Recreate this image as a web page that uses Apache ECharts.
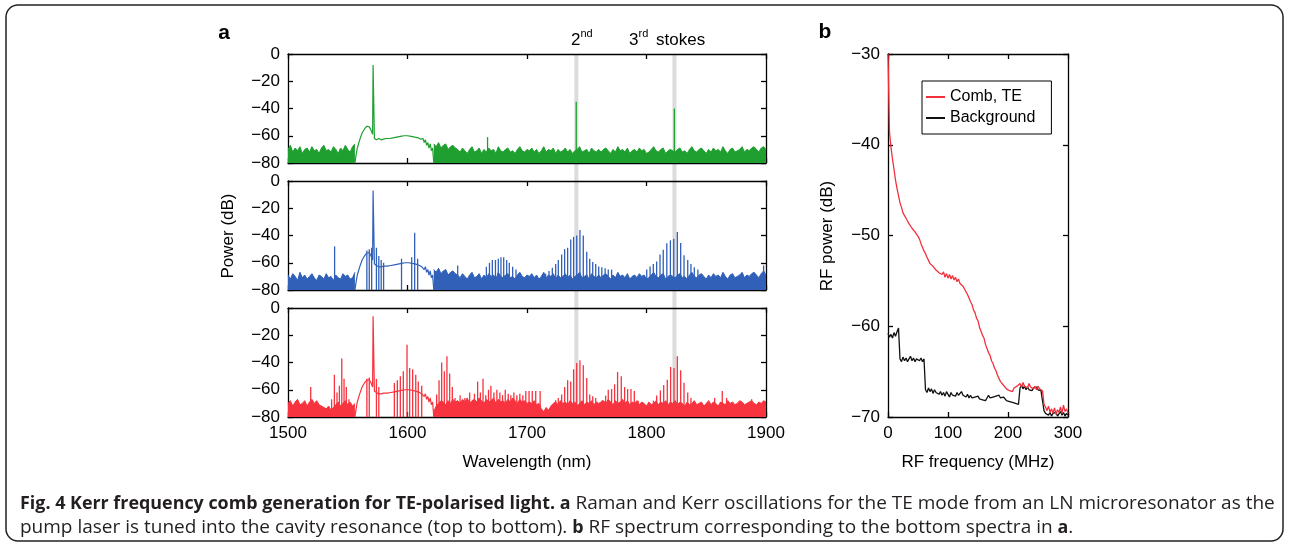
<!DOCTYPE html>
<html><head><meta charset="utf-8">
<script src="https://cdn.jsdelivr.net/npm/echarts@6/dist/echarts.min.js"></script>
<style>html,body{margin:0;padding:0;background:#fff}#c{width:1289px;height:548px}</style>
</head><body><div id="c"></div>
<script>
// ================= DATA =================
// Panel a: wavelength axis (nm) and power ticks (dB)
const wlMin = 1500, wlMax = 1900, wlInterval = 100;
const pMin = -80, pMax = 0, pInterval = 20;
// grey bands marking 2nd and 3rd Stokes lines [start nm, end nm]
const stokesBands = [[1739.6, 1743.0], [1821.7, 1825.1]];

// noise floor (top of noise band, dB) sampled every 2 nm
const noiseStep = 2;
const noiseLeftStart = 1500;   // 1500..1556
const noiseRightStart = 1622;  // 1622..1900

// --- top spectrum (green) ---
const greenNoiseLeft = [
 -70,-67,-72,-69,-71,-68,-73,-70,-69,-72,
 -68,-71,-70,-73,-69,-67,-71,-70,-72,-68,
 -70,-73,-69,-71,-67,-70,-72,-68,-66];
const greenNoiseRight = [
 -66,-68,-65,-69,-67,-66,-70,-68,-67,-69,
 -70,-72,-69,-71,-73,-70,-68,-72,-71,-69,
 -73,-70,-72,-69,-71,-70,-73,-68,-71,-72,
 -70,-69,-72,-71,-73,-70,-68,-71,-72,-70,
 -71,-69,-72,-70,-73,-71,-68,-72,-70,-71,
 -69,-73,-70,-72,-71,-69,-72,-70,-73,-71,
 -70,-68,-72,-71,-70,-73,-69,-71,-72,-70,
 -72,-70,-69,-71,-73,-70,-72,-68,-71,-70,
 -72,-69,-73,-71,-70,-72,-69,-71,-70,-73,
 -72,-70,-68,-71,-72,-70,-69,-73,-71,-70,
 -71,-72,-70,-69,-72,-71,-73,-70,-68,-71,
 -72,-70,-69,-71,-73,-70,-72,-69,-71,-70,
 -72,-68,-71,-73,-70,-69,-72,-71,-70,-68,
 -72,-70,-71,-69,-68,-70,-72,-69,-68,-70];
const greenHump = [[1556,-80],[1557,-74],[1558,-69],[1560,-63],[1562,-58],[1564,-55],[1566,-53],[1568,-53.5],
 [1569.5,-56],[1570.8,-59],[1571.2,-8],[1571.8,-8],[1572.3,-62],[1574,-63],[1576,-62],[1578,-63],[1580,-62.5],
 [1582,-62],[1585,-62],[1588,-61.5],[1591,-61],[1594,-60.5],[1597,-60],[1600,-60],[1603,-60.5],[1606,-61],
 [1609,-61.5],[1611,-62.5],[1613,-62],[1614,-65],[1615,-63],[1616,-67],[1617,-65],[1618,-69],[1619,-66],
 [1620,-71],[1621,-69],[1622,-80]];
const greenSpikes = [[1667,-61],[1741.2,-35],[1823.3,-40]];

// --- middle spectrum (blue) ---
const blueNoiseLeft = [
 -69,-72,-68,-70,-73,-67,-71,-69,-72,-70,
 -68,-71,-73,-69,-70,-72,-68,-71,-70,-73,
 -69,-71,-72,-68,-70,-69,-72,-71,-67];
const blueNoiseRight = [
 -65,-67,-64,-68,-66,-65,-69,-67,-66,-68,
 -69,-71,-68,-70,-72,-69,-67,-71,-70,-68,
 -72,-69,-71,-68,-70,-69,-72,-67,-70,-71,
 -69,-68,-71,-70,-72,-69,-67,-70,-71,-69,
 -70,-68,-71,-69,-72,-70,-67,-71,-69,-70,
 -68,-72,-69,-71,-70,-68,-71,-69,-72,-70,
 -69,-67,-71,-70,-69,-72,-68,-70,-71,-69,
 -71,-69,-68,-70,-72,-69,-71,-67,-70,-69,
 -71,-68,-72,-70,-69,-71,-68,-70,-69,-72,
 -71,-69,-67,-70,-71,-69,-68,-72,-70,-69,
 -70,-71,-69,-68,-71,-70,-72,-69,-67,-70,
 -71,-69,-68,-70,-72,-69,-71,-68,-70,-69,
 -71,-67,-70,-72,-69,-68,-71,-70,-69,-67,
 -71,-69,-70,-68,-67,-69,-71,-68,-66,-69];
const blueHump = [[1556,-80],[1557,-74],[1558,-69],[1560,-63],[1562,-58],[1564,-55],[1566,-53],[1568,-52.5],
 [1569.5,-55],[1570.8,-58],[1571.2,-7],[1571.8,-7],[1572.3,-61],[1574,-62],[1576,-63],[1578,-63],[1580,-62.5],
 [1583,-62.5],[1586,-62],[1589,-61.5],[1592,-61],[1595,-60.5],[1598,-60],[1601,-60],[1604,-60.5],[1607,-61],
 [1610,-62],[1612,-63],[1613,-62],[1614,-65],[1615,-63],[1616,-67],[1617,-65],[1618,-69],[1619,-66],
 [1620,-71],[1621,-69],[1622,-80]];
const blueSpikes = [[1539,-48],[1566,-51],[1568,-50],[1570,-49],[1574,-49],[1576,-55],[1578,-58],[1580,-60],
 [1595,-57],[1603.5,-56],[1606,-38],[1608.5,-57],[1642,-62],
 [1666,-63],[1668.6,-60],[1671,-58],[1673.6,-58],[1676,-57],[1678.2,-56],[1680.5,-56],[1683,-58],[1685.2,-60],[1688,-63],[1690.8,-65],
 [1715.6,-68],[1718.4,-66],[1721.2,-63.6],[1724,-61],[1726.2,-58],[1729,-54],[1731.5,-50],[1734,-49],[1736.6,-43],
 [1739,-41],[1741.6,-40],[1744.3,-36],[1747.1,-40],[1750,-52],[1752.5,-57],[1755,-59.5],[1757.5,-61],[1760,-62.7],
 [1762.6,-63.3],[1765.4,-64],[1768,-65],[1770.8,-65],
 [1800.2,-65],[1803,-62.7],[1805.7,-61],[1808.5,-59],[1811.3,-54],[1814,-50.5],[1817,-45.6],[1820,-43.5],
 [1822.8,-42.3],[1825.8,-37.4],[1828.6,-45.5],[1831.4,-54.5],[1834.5,-58],[1837.2,-61],[1840,-63.3],[1843,-65],
 [1898,-62]];

// --- bottom spectrum (red) ---
const redNoiseLeft = [
 -70,-68,-72,-69,-67,-71,-70,-68,-72,-69,
 -67,-70,-68,-71,-72,-73,-74,-72,-75,-73,
 -71,-69,-72,-70,-68,-71,-69,-72,-70];
const redNoiseRight = [
 -76,-72,-70,-68,-69,-71,-68,-70,-67,-69,
 -68,-70,-67,-69,-66,-70,-68,-67,-69,-66,
 -68,-70,-67,-69,-68,-66,-70,-67,-69,-68,
 -70,-67,-69,-66,-68,-70,-67,-69,-68,-70,
 -69,-70,-68,-71,-70,-74,-76,-73,-75,-72,
 -70,-69,-71,-68,-70,-69,-71,-68,-70,-69,
 -72,-70,-68,-71,-69,-70,-68,-71,-69,-70,
 -69,-68,-70,-67,-69,-71,-68,-70,-69,-67,
 -70,-68,-71,-69,-70,-68,-71,-69,-70,-72,
 -69,-71,-70,-68,-71,-69,-70,-68,-71,-69,
 -70,-68,-71,-69,-70,-72,-69,-71,-70,-68,
 -71,-70,-69,-72,-70,-68,-71,-69,-70,-72,
 -69,-70,-71,-68,-70,-69,-71,-70,-68,-69,
 -71,-70,-69,-68,-70,-71,-69,-70,-68,-69];
const redHump = [[1556,-80],[1557,-74],[1558,-69],[1560,-63],[1562,-58],[1564,-55],[1566,-53],[1568,-52.5],
 [1569.5,-55],[1570.8,-58],[1571.2,-6],[1571.8,-6],[1572.3,-61],[1574,-62],[1576,-63],[1578,-63],[1580,-62.5],
 [1583,-62.5],[1586,-62],[1589,-61.5],[1592,-61],[1595,-60.5],[1598,-60],[1601,-60],[1604,-60.5],[1607,-61],
 [1610,-62],[1612,-63],[1613,-62],[1614,-65],[1615,-63],[1616,-67],[1617,-65],[1618,-69],[1619,-66],
 [1620,-71],[1621,-69],[1622,-80]];
const redSpikes = [[1519,-58],[1536.5,-67],[1538.8,-49],[1541,-62],[1543,-57],[1545,-37],[1546.9,-52],[1548.8,-58],[1551,-67],
 [1566,-52],[1568,-51],[1574,-52],[1576,-58],
 [1589,-55],[1591.5,-53],[1594,-50],[1596.5,-46.5],[1599.6,-27],[1601.8,-44],[1604.3,-45],[1606.9,-49],[1609,-54],[1611.9,-57],
 [1624.4,-63.5],[1626.4,-53],[1628.6,-40],[1630.8,-46.5],[1633,-35.5],[1635.3,-48],[1637.5,-58],[1639.8,-66],
 [1644,-64],[1648,-66],[1652,-62],[1656,-63],[1658.7,-54],[1661,-62],[1663.2,-52],[1665.5,-64],[1667.8,-60],
 [1669.8,-57],[1672.3,-62],[1674.8,-60],[1677.3,-62],[1679.5,-64],[1681.8,-60],[1684.3,-63],[1686.5,-64],
 [1689,-62],[1691.5,-64],[1694,-63],[1696.5,-64],
 [1699,-61],[1701.7,-61],[1704.4,-61],[1707.3,-61],[1711,-61],
 [1724,-67.7],[1726.2,-66],[1729,-63.5],[1731.5,-58],[1734,-53],[1736.6,-54],[1739,-45],[1741.6,-40.4],
 [1744.3,-38.4],[1747.1,-42],[1750,-51.4],[1752.5,-63.5],[1755,-64.7],[1757.5,-66],
 [1763,-67.7],[1765.8,-64.3],[1768,-60],[1770.8,-59.5],[1773.3,-56],[1775.8,-47],[1778.9,-50],[1781.7,-58],
 [1784.2,-59.5],[1787,-59.5],[1789.8,-61],[1793,-68],
 [1805.8,-68],[1808.5,-64.3],[1811.6,-60.5],[1814.4,-56.5],[1817.4,-52.6],[1820.2,-43.3],[1823,-44],
 [1825.8,-35.5],[1828.6,-45.7],[1831.4,-54.8],[1834.5,-62],[1837.2,-66],
 [1857,-66],[1863.4,-61],[1867,-66],[1888,-67]];

// Panel b: RF spectrum, sampled every 2.5 MHz from 0 MHz
const rfMin = 0, rfMax = 300, rfInterval = 100;
const rfPMin = -70, rfPMax = -30, rfPInterval = 10;
const rfStart = 0, rfStep = 2.5;
const combTE = [
 -30,-38.6,-40.3,-41.6,-42.7,-43.9,-44.8,-45.6,-46.4,-46.9,
 -47.5,-47.4,-48.1,-47.9,-48.7,-48.6,-49.2,-49.0,-49.6,-49.4,
 -50.1,-50.4,-50.9,-51.1,-51.7,-52.0,-52.4,-52.6,-53.1,-52.9,
 -53.4,-53.3,-53.8,-53.6,-54.1,-53.9,-54.3,-54.0,-54.6,-54.2,
 -54.7,-54.3,-54.8,-54.4,-54.9,-54.6,-55.1,-54.8,-55.3,-55.2,
 -55.6,-55.9,-56.2,-56.5,-56.9,-57.3,-57.6,-58.2,-58.5,-59.1,
 -59.4,-60.1,-60.3,-61.0,-61.3,-62.0,-62.2,-62.9,-63.2,-63.8,
 -64.1,-64.6,-64.9,-65.4,-65.6,-66.1,-66.0,-66.5,-66.4,-66.9,
 -66.7,-67.1,-66.9,-67.2,-66.8,-67.0,-66.6,-66.8,-66.3,-66.7,
 -66.2,-66.6,-66.4,-66.8,-66.3,-66.7,-66.5,-66.9,-66.6,-67.0,
 -66.6,-66.9,-66.7,-67.1,-68.6,-68.9,-69.3,-68.8,-69.5,-69.1,
 -69.6,-69.0,-69.7,-69.2,-69.5,-68.9,-69.6,-68.7,-69.4,-69.1,
 -69.6];
const background = [
 -60.8,-61.2,-60.9,-61.3,-60.7,-61.1,-60.6,-60.2,-63.6,-63.9,
 -63.4,-63.8,-63.5,-63.9,-63.6,-63.3,-63.8,-63.5,-63.9,-63.6,
 -63.4,-63.8,-63.5,-63.9,-63.6,-67.0,-67.3,-66.8,-67.2,-66.9,
 -67.4,-67.0,-67.3,-67.1,-67.5,-67.2,-67.6,-67.3,-67.7,-67.2,
 -67.5,-67.8,-67.3,-67.6,-67.4,-67.7,-67.3,-67.6,-67.5,-67.2,
 -67.6,-67.4,-67.8,-67.5,-67.9,-67.6,-67.9,-68.1,-67.8,-68.0,
 -67.7,-68.0,-67.8,-68.1,-67.9,-68.2,-67.9,-67.6,-67.9,-68.1,
 -67.8,-68.0,-67.7,-67.9,-67.6,-67.9,-68.1,-67.8,-68.0,-68.2,
 -68.0,-68.3,-68.1,-68.4,-68.2,-68.5,-68.3,-68.6,-66.8,-66.5,
 -66.9,-66.6,-67.0,-66.7,-67.0,-66.8,-67.1,-66.8,-67.0,-66.7,
 -67.0,-66.8,-67.1,-66.9,-69.3,-69.6,-69.4,-69.8,-69.5,-69.9,
 -69.6,-69.8,-69.5,-69.9,-69.7,-69.4,-69.8,-69.5,-69.9,-69.6,
 -69.8];
const seriesNames = ['Comb, TE', 'Background'];

// ================= BUILD =================
const GREEN = '#1f9f30', BLUE = '#3060b8', RED = '#f6333f', RFRED = '#f2303c', BLACK = '#111111';
const FONT = 'Liberation Sans';

function noiseData(left, right) {
  const d = [];
  left.forEach((v, i) => d.push([noiseLeftStart + i * noiseStep, v]));
  d.push([(noiseLeftStart + (left.length - 1) * noiseStep + noiseRightStart) / 2, '-']);
  right.forEach((v, i) => d.push([noiseRightStart + i * noiseStep, v]));
  return d;
}
function rfData(arr) { return arr.map((v, i) => [rfStart + i * rfStep, v]); }
const fmtMinus = v => (v < 0 ? '\u2212' + Math.abs(v) : String(v));

const lineStyleAx = { color: '#000', width: 1.3 };
function xAx(grid, pos, labels, min, max, interval) {
  return { type: 'value', gridIndex: grid, position: pos, min, max, interval,
    axisLine: { show: true, onZero: false, lineStyle: lineStyleAx },
    axisTick: { show: true, inside: true, length: 5, lineStyle: lineStyleAx },
    axisLabel: { show: labels, color: '#000', fontSize: 17, fontFamily: FONT, margin: 8, formatter: fmtMinus },
    splitLine: { show: false } };
}
function yAx(grid, pos, labels, min, max, interval) {
  return { type: 'value', gridIndex: grid, position: pos, min, max, interval,
    axisLine: { show: true, onZero: false, lineStyle: lineStyleAx },
    axisTick: { show: true, inside: true, length: 5, lineStyle: lineStyleAx },
    axisLabel: { show: labels, color: '#000', fontSize: 17, fontFamily: FONT, margin: 8, formatter: fmtMinus },
    splitLine: { show: false } };
}

const grids = [
  { left: 288, top: 54, width: 478, height: 363 },
  { left: 288, top: 54, width: 478, height: 109 },
  { left: 288, top: 181, width: 478, height: 109 },
  { left: 288, top: 308, width: 478, height: 109 },
  { left: 888, top: 54, width: 180, height: 363 }
];
const xAxes = [
  { type: 'value', gridIndex: 0, min: wlMin, max: wlMax, show: false },
  xAx(1, 'bottom', false, wlMin, wlMax, wlInterval), xAx(1, 'top', false, wlMin, wlMax, wlInterval),
  xAx(2, 'bottom', false, wlMin, wlMax, wlInterval), xAx(2, 'top', false, wlMin, wlMax, wlInterval),
  xAx(3, 'bottom', true, wlMin, wlMax, wlInterval), xAx(3, 'top', false, wlMin, wlMax, wlInterval),
  xAx(4, 'bottom', true, rfMin, rfMax, rfInterval), xAx(4, 'top', false, rfMin, rfMax, rfInterval)
];
const yAxes = [
  { type: 'value', gridIndex: 0, min: 0, max: 1, show: false },
  yAx(1, 'left', true, pMin, pMax, pInterval), yAx(1, 'right', false, pMin, pMax, pInterval),
  yAx(2, 'left', true, pMin, pMax, pInterval), yAx(2, 'right', false, pMin, pMax, pInterval),
  yAx(3, 'left', true, pMin, pMax, pInterval), yAx(3, 'right', false, pMin, pMax, pInterval),
  yAx(4, 'left', true, rfPMin, rfPMax, rfPInterval), yAx(4, 'right', false, rfPMin, rfPMax, rfPInterval)
];

const series = [];
series.push({
  type: 'custom', xAxisIndex: 0, yAxisIndex: 0, z: -1, silent: true, data: stokesBands,
  encode: { x: [0, 1] },
  renderItem: (params, api) => {
    const a = api.coord([api.value(0), 0]);
    const b = api.coord([api.value(1), 0]);
    const cs = params.coordSys;
    return { type: 'rect', shape: { x: a[0], y: cs.y, width: b[0] - a[0], height: cs.height },
      style: { fill: '#dcdcdc' } };
  }
});

const panels = [
  { nl: greenNoiseLeft, nr: greenNoiseRight, hump: greenHump, spikes: greenSpikes, color: GREEN, ax: 1 },
  { nl: blueNoiseLeft, nr: blueNoiseRight, hump: blueHump, spikes: blueSpikes, color: BLUE, ax: 3 },
  { nl: redNoiseLeft, nr: redNoiseRight, hump: redHump, spikes: redSpikes, color: RED, ax: 5 }
];
panels.forEach(p => {
  series.push({
    type: 'custom', xAxisIndex: p.ax, yAxisIndex: p.ax, data: p.spikes, encode: { x: 0, y: 1 }, silent: true,
    renderItem: (params, api) => {
      const t = api.coord([api.value(0), api.value(1)]);
      const b = api.coord([api.value(0), pMin]);
      return { type: 'line', shape: { x1: t[0], y1: t[1], x2: b[0], y2: b[1] },
        style: { stroke: p.color, lineWidth: 1.3 } };
    }
  });
  series.push({
    type: 'line', xAxisIndex: p.ax, yAxisIndex: p.ax, data: noiseData(p.nl, p.nr), symbol: 'none',
    connectNulls: false, silent: true,
    lineStyle: { color: p.color, width: 1 },
    areaStyle: { color: p.color, opacity: 1, origin: 'start' }
  });
  series.push({
    type: 'line', xAxisIndex: p.ax, yAxisIndex: p.ax, data: p.hump, symbol: 'none', silent: true,
    lineStyle: { color: p.color, width: 1.2 }
  });
});
series.push({
  name: seriesNames[1], type: 'line', xAxisIndex: 7, yAxisIndex: 7, data: rfData(background), symbol: 'none',
  silent: true, lineStyle: { color: BLACK, width: 1.3 }, itemStyle: { color: BLACK }
});
series.push({
  name: seriesNames[0], type: 'line', xAxisIndex: 7, yAxisIndex: 7, data: rfData(combTE), symbol: 'none',
  silent: true, lineStyle: { color: RFRED, width: 1.3 }, itemStyle: { color: RFRED }
});

const txt = (x, y, text, opt = {}) => ({
  type: 'text', x, y, silent: true, rotation: opt.rotation || 0,
  style: { text, fill: '#000', fontFamily: opt.family || FONT, fontSize: opt.size || 17,
    fontWeight: opt.weight || 'normal', align: opt.align || 'center', verticalAlign: 'middle' }
});

const caption = '{b|Fig. 4 Kerr frequency comb generation for TE-polarised light. a}{r| Raman and Kerr oscillations for the TE mode from an LN microresonator as the}\n' +
  '{r|pump laser is tuned into the cavity resonance (top to bottom). }{b|b}{r| RF spectrum corresponding to the bottom spectra in }{b|a}{r|.}';

const graphics = [
  { type: 'rect', silent: true, shape: { x: 6, y: 5, width: 1277, height: 536, r: 12 },
    style: { fill: 'none', stroke: '#222', lineWidth: 1.5 } },
  txt(224, 33, 'a', { size: 21, weight: 'bold' }),
  txt(825, 32, 'b', { size: 21, weight: 'bold' }),
  txt(571, 40, '2', { align: 'left' }),
  txt(580.5, 34, 'nd', { align: 'left', size: 11 }),
  txt(629, 40, '3', { align: 'left' }),
  txt(638.5, 34, 'rd', { align: 'left', size: 11 }),
  txt(656, 40, 'stokes', { align: 'left' }),
  txt(228, 236, 'Power (dB)', { rotation: Math.PI / 2 }),
  txt(527, 462, 'Wavelength (nm)'),
  txt(827, 236, 'RF power (dB)', { rotation: Math.PI / 2 }),
  txt(978, 462, 'RF frequency (MHz)'),
  { type: 'text', x: 20, y: 492, silent: true,
    style: { text: caption, fill: '#231f20', fontFamily: 'Open Sans', fontSize: 18, lineHeight: 24,
      align: 'left', verticalAlign: 'top',
      rich: {
        b: { fontFamily: 'Open Sans', fontSize: 17.9, fontWeight: 'bold', fill: '#231f20', lineHeight: 24 },
        r: { fontFamily: 'Open Sans', fontSize: 19.0, fontWeight: 'normal', fill: '#231f20', lineHeight: 24 }
      } } }
];

const chart = echarts.init(document.getElementById('c'), null, { renderer: 'canvas' });
chart.setOption({
  animation: false,
  backgroundColor: '#fff',
  grid: grids,
  xAxis: xAxes,
  yAxis: yAxes,
  legend: {
    show: true, left: 922, top: 81, orient: 'vertical',
    data: seriesNames.map(n => ({ name: n, icon: 'rect' })),
    itemWidth: 19, itemHeight: 2, itemGap: 5, padding: [8, 16, 8, 4],
    borderColor: '#000', borderWidth: 1, backgroundColor: '#fff',
    textStyle: { fontSize: 16, fontFamily: FONT, color: '#000' }
  },
  series,
  graphic: graphics
});
</script>
</body></html>
